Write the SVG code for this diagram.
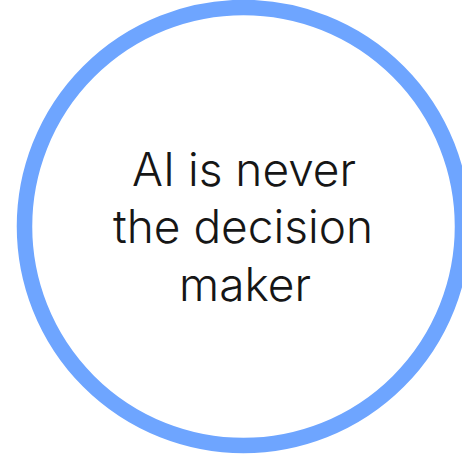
<svg xmlns="http://www.w3.org/2000/svg" width="462" height="460" viewBox="0 0 462 460">
<style>
.ring{fill:#ffffff;stroke:#6ea5ff;stroke-width:15.5}
.lbl{font-family:Inter,"Open Sans","Liberation Sans",sans-serif;font-weight:300;font-size:46px;fill:#161616;text-anchor:middle}
</style>
<rect width="462" height="460" fill="#ffffff"/>
<g id="node-circle">
<circle class="ring" cx="243.5" cy="226.5" r="219"/>
<text class="lbl" x="244" y="186">AI is never</text>
<text class="lbl" x="243" y="243">the decision</text>
<text class="lbl" x="245" y="301">maker</text>
</g>
</svg>
